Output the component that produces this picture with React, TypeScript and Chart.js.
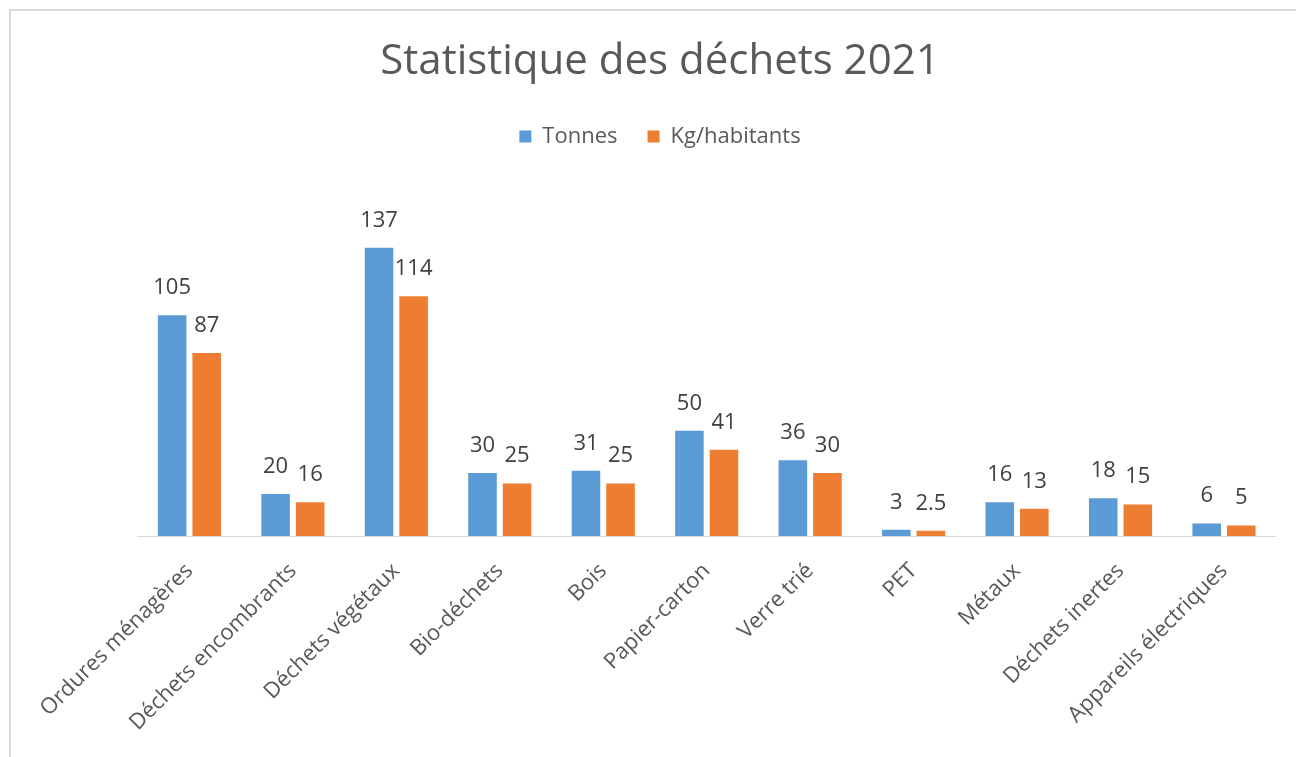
import React, { useEffect, useRef } from "react";
import { Chart, registerables } from "chart.js";

Chart.register(...registerables);

const categories = [
  "Ordures ménagères",
  "Déchets encombrants",
  "Déchets végétaux",
  "Bio-déchets",
  "Bois",
  "Papier-carton",
  "Verre trié",
  "PET",
  "Métaux",
  "Déchets inertes",
  "Appareils électriques",
];
const tonnes = [105, 20, 137, 30, 31, 50, 36, 3, 16, 18, 6];
const kgParHabitant = [87, 16, 114, 25, 25, 41, 30, 2.5, 13, 15, 5];
const seriesNames = ["Tonnes", "Kg/habitants"];
const titleText = "Statistique des déchets 2021";

const FONT = "'Open Sans', 'Noto Sans', sans-serif";

const dataLabelPlugin = {
  id: "dataLabels",
  afterDatasetsDraw(chart: any) {
    const ctx = chart.ctx;
    ctx.save();
    ctx.font = `22px ${FONT}`;
    ctx.fillStyle = "#404040";
    ctx.textAlign = "center";
    ctx.textBaseline = "alphabetic";
    chart.data.datasets.forEach((ds: any, i: number) => {
      const meta = chart.getDatasetMeta(i);
      meta.data.forEach((bar: any, j: number) => {
        const v = ds.data[j];
        ctx.fillText(String(v), bar.x, bar.y - 21);
      });
    });
    ctx.restore();
  },
};

export default function App() {
  const ref = useRef<HTMLCanvasElement | null>(null);
  useEffect(() => {
    if (!ref.current) return;
    const chart = new Chart(ref.current, {
      type: "bar",
      data: {
        labels: categories,
        datasets: [
          {
            label: seriesNames[0],
            data: tonnes,
            backgroundColor: "#5B9BD5",
            categoryPercentage: 0.668,
            barPercentage: 0.827,
          },
          {
            label: seriesNames[1],
            data: kgParHabitant,
            backgroundColor: "#ED7D31",
            categoryPercentage: 0.668,
            barPercentage: 0.827,
          },
        ],
      },
      options: {
        animation: false,
        responsive: false,
        devicePixelRatio: 1,
        layout: { padding: { left: 24, right: 0, top: 0, bottom: 0 } },
        plugins: {
          title: {
            display: true,
            text: titleText,
            color: "#595959",
            font: { family: FONT, size: 42, weight: "normal", lineHeight: 1.2 },
            padding: { top: 37, bottom: 8 },
          },
          legend: {
            display: true,
            position: "top",
            labels: {
              color: "#595959",
              font: { family: FONT, size: 22 },
              boxWidth: 12,
              boxHeight: 12,
              padding: 30,
            },
          },
          tooltip: { enabled: false },
        },
        scales: {
          x: {
            grid: { display: false, drawTicks: false },
            border: { display: true, color: "#d9d9d9", width: 1 },
            ticks: {
              color: "#595959",
              font: { family: FONT, size: 22 },
              minRotation: 45,
              maxRotation: 45,
              autoSkip: false,
              padding: 22,
            },
            afterFit: (s: any) => {
              s.height = 757 - 536;
              s.paddingLeft = 137.7;
              s.paddingRight = 20.3;
            },
          },
          y: {
            display: false,
            min: 0,
            max: 180,
          },
        },
      },
      plugins: [dataLabelPlugin],
    } as any);
    return () => chart.destroy();
  }, []);

  return (
    <div
      style={{
        position: "fixed",
        left: 0,
        top: 0,
        width: 1296,
        height: 757,
        overflow: "hidden",
        background: "#ffffff",
      }}
    >
      <div
        style={{
          position: "absolute",
          left: 9,
          top: 9,
          width: 1400,
          height: 900,
          borderTop: "2px solid #d9d9d9",
          borderLeft: "2px solid #d9d9d9",
        }}
      />
      <canvas
        ref={ref}
        width={1296}
        height={757}
        style={{ position: "absolute", left: 0, top: 0, width: 1296, height: 757 }}
      />
    </div>
  );
}
